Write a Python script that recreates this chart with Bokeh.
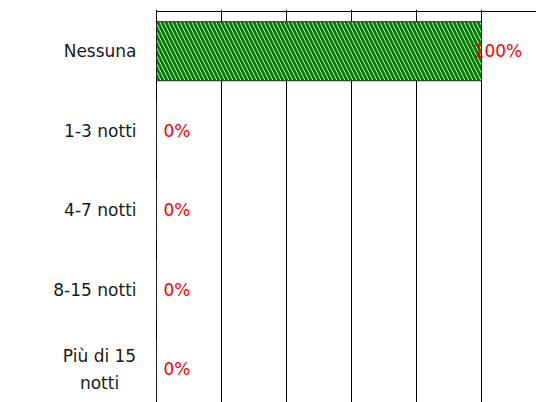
from bokeh.plotting import figure
from bokeh.models import Range1d, FixedTicker, ColumnDataSource
from bokeh.core.properties import value
from bokeh.embed import file_html
from bokeh.resources import INLINE

categories = ["Nessuna", "1-3 notti", "4-7 notti", "8-15 notti", "Più di 15\nnotti"]
shares = [1.0, 0.0, 0.0, 0.0, 0.0]
share_labels = ["100%", "0%", "0%", "0%", "0%"]
x_ticks = [0.0, 0.2, 0.4, 0.6, 0.8, 1.0]

FONT = "DejaVu Sans"
FSIZE = "17px"
ypos = list(range(len(categories)))
X_END = 1.169

p = figure(width=536, height=402, output_backend="svg", toolbar_location=None,
           x_range=Range1d(-0.48, X_END), y_range=Range1d(4.418, -0.525),
           x_axis_location=None, y_axis_location=None,
           min_border_left=0, min_border_top=9, min_border_bottom=0, min_border_right=0)
p.outline_line_color = None
p.background_fill_color = "white"
p.border_fill_color = "white"

p.xgrid.ticker = FixedTicker(ticks=x_ticks)
p.xgrid.grid_line_color = "black"
p.xgrid.grid_line_width = 1
p.ygrid.grid_line_color = None

# top border of the plot area
p.segment(x0=[0], x1=[X_END], y0=[-0.5], y1=[-0.5], line_color="black", line_width=1)

p.hbar(y=ypos, left=0, right=shares, height=0.742, fill_color="white",
       hatch_pattern="\\", hatch_color="#008000", hatch_scale=8, hatch_weight=2.9,
       line_color="#222222", line_width=1)

# category labels (right-aligned block, multi-line one centred within its block)
cat_src = ColumnDataSource(dict(
    x=[0] * len(categories), y=ypos, t=categories,
    align=["center" if "\n" in c else "right" for c in categories],
    off=[-57 if "\n" in c else -20 for c in categories]))
p.text(x="x", y="y", text="t", source=cat_src, x_offset="off", text_align="align",
       text_font=value(FONT), text_font_size=FSIZE, text_color="#1a1a1a",
       text_baseline="middle", text_line_height=1.35)

src = ColumnDataSource(dict(x=shares, y=ypos, t=share_labels,
                            off=[-8 if s > 0 else 7 for s in shares]))
p.text(x="x", y="y", text="t", source=src, x_offset="off",
       text_font=value(FONT), text_font_size=FSIZE, text_color="#ff0000",
       text_align="left", text_baseline="middle")

open("out.html", "w").write(file_html(p, INLINE))
